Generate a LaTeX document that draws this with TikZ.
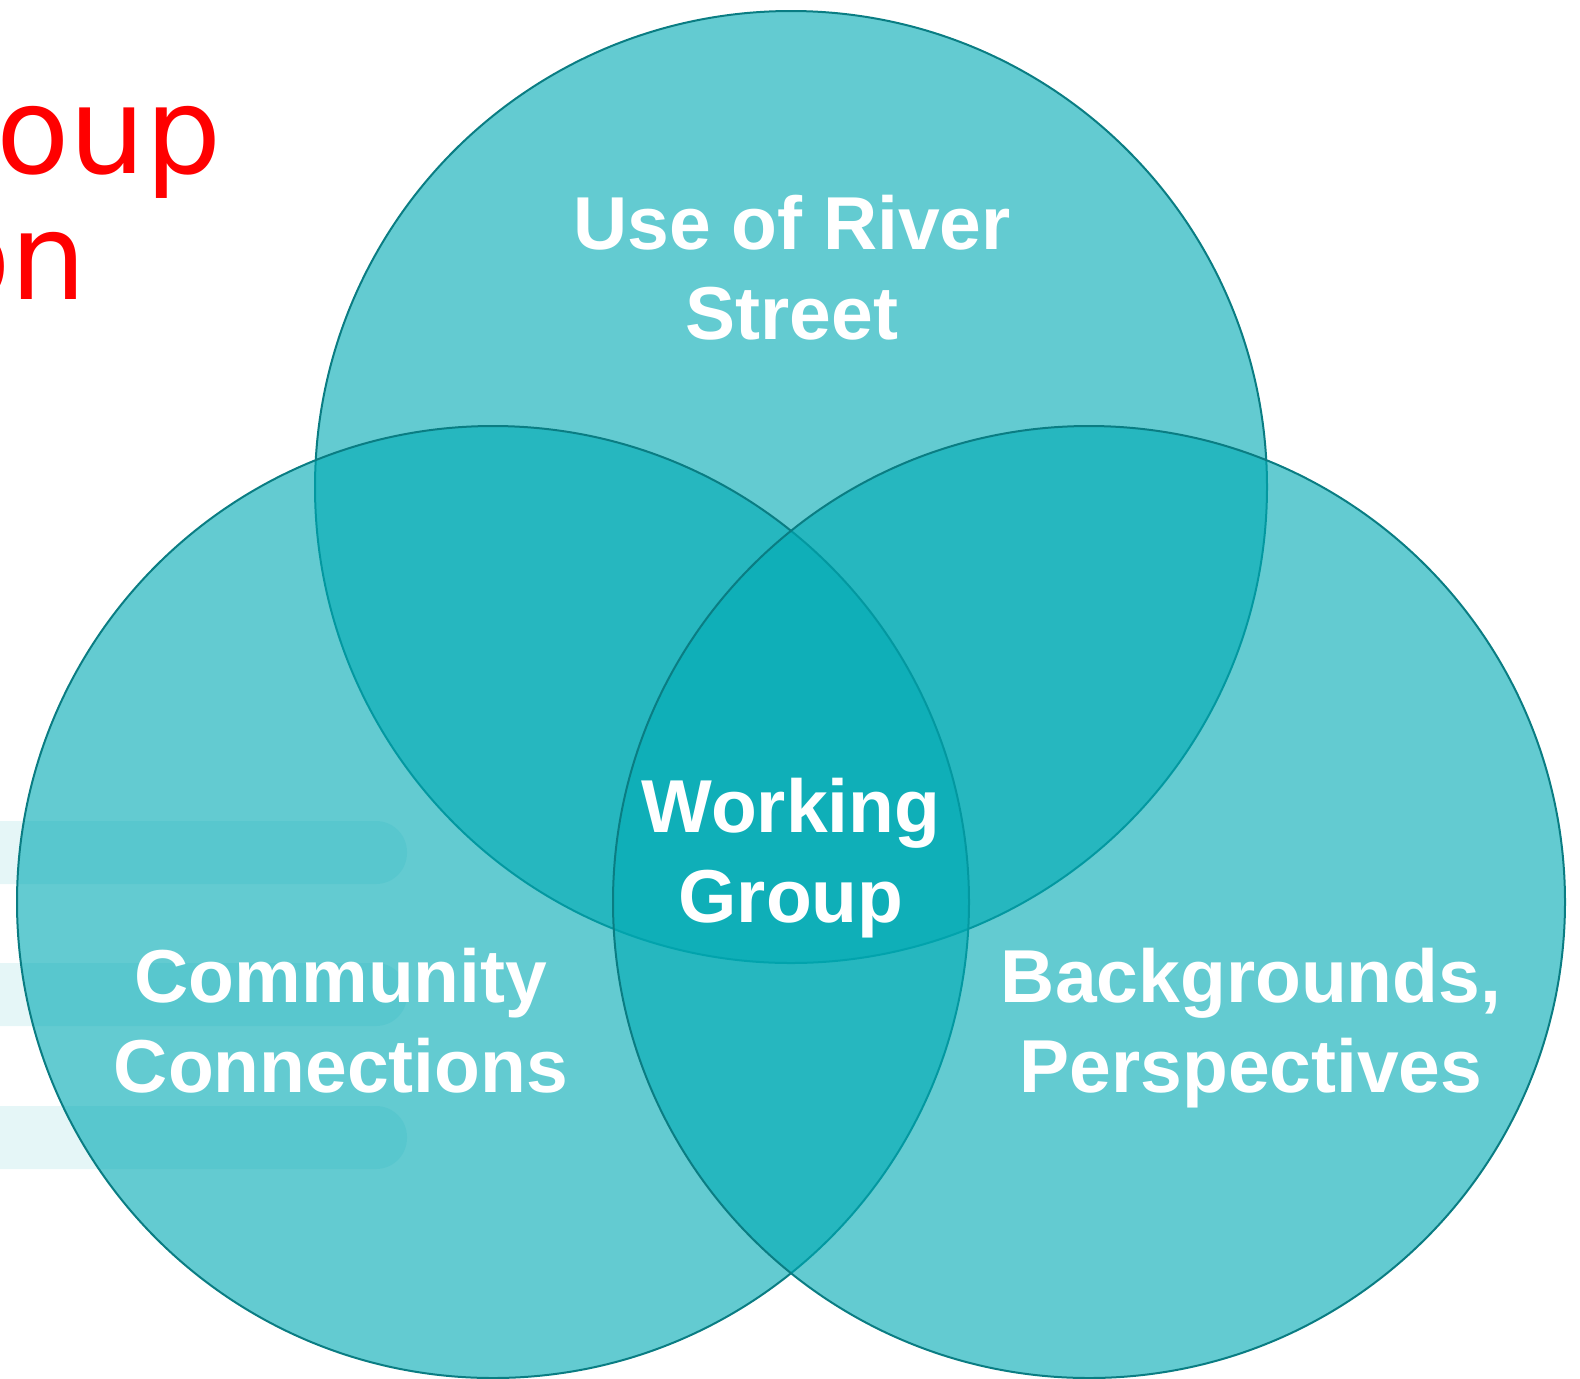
\documentclass[tikz,border=0pt]{standalone}
\usepackage{fontspec}
\setmainfont{Liberation Sans}
\newfontfamily\titlefont{DejaVu Sans}
\usetikzlibrary{positioning}
\definecolor{tealx}{HTML}{00AAB4}
\definecolor{edgex}{HTML}{0A7D83}
\definecolor{barx}{HTML}{E5F6F7}
\definecolor{redx}{HTML}{FF0000}
\tikzset{
  venn/.style={fill=tealx,fill opacity=0.61,draw=edgex,line width=1pt},
  lbl/.style={text=white,font=\bfseries\fontsize{37.5}{45}\selectfont,align=center,inner sep=0pt,anchor=base},
  bar/.style={fill=barx,rounded corners=15.5pt},
  ttl/.style={text=redx,font=\titlefont\fontsize{60}{63}\selectfont,inner sep=0pt}
}

\begin{document}
\begin{tikzpicture}[x=0.5pt,y=-0.5pt]
\def\R{476}
\useasboundingbox (0,0) rectangle (1580,1378);
% faint bars behind the circles
\foreach \y in {821,963,1106}
  \fill[bar] (-40,\y) rectangle (407,\y+63);
% title, cut off at the page edge
\node[ttl,anchor=base west] (ttlA) at (-4,173) {oup};
\node[ttl,anchor=base east] (ttlB) at (87,299) {on};
% circles
\path[venn] (791,487) circle (\R);
\path[venn] (493,902) circle (\R);
\path[venn] (1089,902) circle (\R);
% labels (base = last line)
\node[lbl] (river) at (792,339) {Use of River\\Street};
\node[lbl] (comm) at (341,1092) {Community\\Connections};
\node[lbl] (back) at (1251,1092) {Backgrounds,\\Perspectives};
\node[lbl] (work) at (791,922) {Working\\Group};
\end{tikzpicture}
\end{document}
